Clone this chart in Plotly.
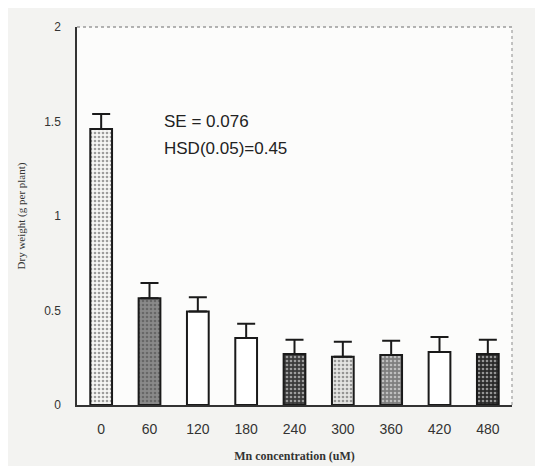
import plotly.graph_objects as go

categories = ["0", "60", "120", "180", "240", "300", "360", "420", "480"]
dry_weight = [1.46, 0.565, 0.495, 0.355, 0.27, 0.255, 0.265, 0.28, 0.27]
se_upper = [0.08, 0.08, 0.075, 0.075, 0.075, 0.08, 0.075, 0.08, 0.075]
fill_colors = ["#f6f6f4", "#8a8a8a", "#ffffff", "#ffffff", "#3a3a3a",
               "#e4e4e2", "#7e7e7e", "#ffffff", "#2a2a2a"]
dot_colors = ["#dcdcda", "#5e5e5e", "#ffffff", "#ffffff", "#1e1e1e",
              "#cacac8", "#a0a0a0", "#ffffff", "#111111"]
pattern_shapes = [".", ".", "", "", ".", ".", ".", "", "."]
y_ticks = [0, 0.5, 1, 1.5, 2]
y_tick_text = ["0", "0.5", "1", "1.5", "2"]

fig = go.Figure()
fig.add_trace(go.Bar(
    x=categories, y=dry_weight, width=0.45,
    marker=dict(color=fill_colors, line=dict(color="#1a1a1a", width=2),
                pattern=dict(shape=pattern_shapes, fgcolor=dot_colors,
                             bgcolor=fill_colors, size=4, solidity=0.35)),
    error_y=dict(type="data", symmetric=False, array=se_upper,
                 arrayminus=[0] * len(categories), color="#1a1a1a",
                 thickness=2, width=9),
))

fig.add_annotation(xref="paper", yref="paper", x=0.195, y=0.78, xanchor="left",
                   text="SE = 0.076", showarrow=False,
                   font=dict(family="Liberation Sans, Arial", size=17, color="#222"))
fig.add_annotation(xref="paper", yref="paper", x=0.195, y=0.71, xanchor="left",
                   text="HSD(0.05)=0.45", showarrow=False,
                   font=dict(family="Liberation Sans, Arial", size=17, color="#222"))

# dotted top/right border
fig.add_shape(type="line", xref="paper", yref="paper", x0=0, x1=1, y0=1, y1=1,
              line=dict(color="#9a9a9a", width=1.5, dash="dot"))
fig.add_shape(type="line", xref="paper", yref="paper", x0=1, x1=1, y0=0, y1=1,
              line=dict(color="#b0b0b0", width=1.5, dash="dot"))

fig.update_layout(
    width=543, height=466,
    margin=dict(l=67, r=39, t=17, b=69),
    paper_bgcolor="#f3f3f1", plot_bgcolor="#fcfcfb",
    showlegend=False,
    xaxis=dict(showline=True, linecolor="#333", linewidth=1.5,
               ticks="outside", ticklen=10, tickcolor="rgba(0,0,0,0)",
               tickfont=dict(family="Liberation Sans, Arial", size=14, color="#333"),
               title=dict(text="<b>Mn concentration (uM)</b>", standoff=16,
                          font=dict(family="Liberation Serif, Times New Roman", size=12, color="#333"))),
    yaxis=dict(range=[0, 2], tickvals=y_ticks, ticktext=y_tick_text,
               showline=True, linecolor="#333", linewidth=1.5, showgrid=False,
               zeroline=False, ticks="outside", ticklen=12, tickcolor="rgba(0,0,0,0)",
               tickfont=dict(family="Liberation Sans, Arial", size=12, color="#333"),
               title=dict(text="Dry weight (g per plant)", standoff=16,
                          font=dict(family="Liberation Serif, Times New Roman", size=11, color="#333"))),
)

fig.write_html("out.html")
